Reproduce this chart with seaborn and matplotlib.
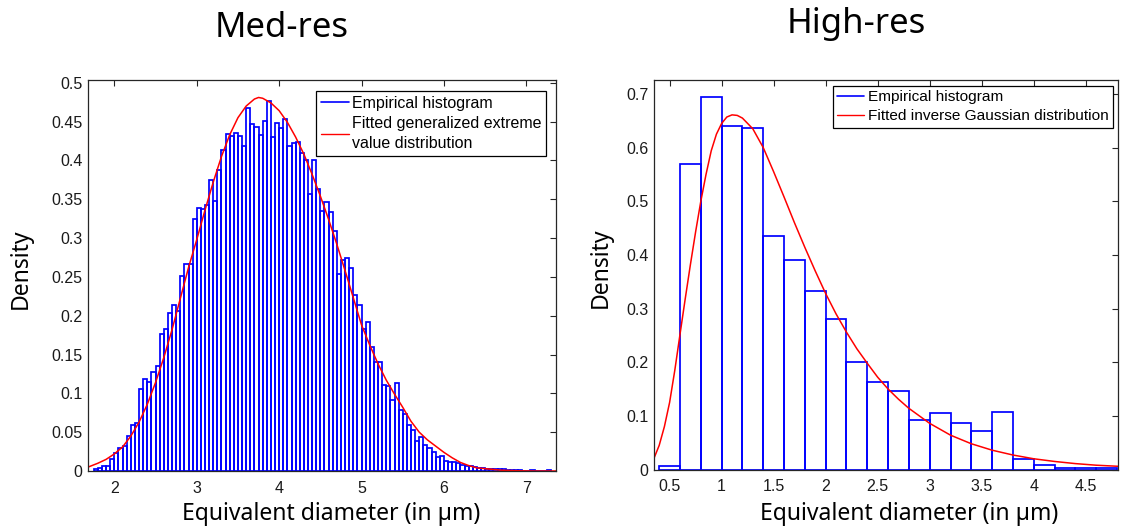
import numpy as np
import pandas as pd
import matplotlib
matplotlib.use("Agg")
import matplotlib.pyplot as plt
import seaborn as sns
from matplotlib.lines import Line2D

# --- Data ---
# Med-res: histogram with bin width 0.05 starting at 1.75
med_bin_start = 1.75
med_bin_width = 0.05
med_density = [
    0.003, 0.004, 0.006, 0.007, 0.015, 0.023, 0.029, 0.032, 0.045, 0.059,
    0.062, 0.105, 0.118, 0.114, 0.127, 0.135, 0.177, 0.183, 0.204, 0.214,
    0.206, 0.251, 0.267, 0.267, 0.325, 0.339, 0.337, 0.343, 0.375, 0.348,
    0.387, 0.414, 0.434, 0.431, 0.435, 0.431, 0.418, 0.467, 0.447, 0.443,
    0.433, 0.451, 0.477, 0.430, 0.448, 0.442, 0.453, 0.418, 0.423, 0.424,
    0.410, 0.400, 0.357, 0.400, 0.363, 0.335, 0.347, 0.334, 0.309, 0.254,
    0.272, 0.274, 0.261, 0.226, 0.214, 0.183, 0.192, 0.160, 0.140, 0.140,
    0.111, 0.110, 0.092, 0.113, 0.079, 0.074, 0.059, 0.053, 0.038, 0.044,
    0.034, 0.030, 0.024, 0.018, 0.019, 0.013, 0.011, 0.012, 0.010, 0.008,
    0.007, 0.006, 0.005, 0.004, 0.004, 0.003, 0.003, 0.002, 0.002, 0.002,
    0.001, 0.001, 0.001, 0.001, 0.0005, 0.0005, 0.001, 0.0005, 0.0005, 0.0005,
    0.001,
]
med_fit_x = [1.68, 1.8, 1.9, 2.0, 2.1, 2.2, 2.3, 2.4, 2.5, 2.6, 2.7, 2.8, 2.9,
             3.0, 3.1, 3.2, 3.3, 3.4, 3.5, 3.6, 3.7, 3.75, 3.8, 3.9, 4.0, 4.1,
             4.2, 4.3, 4.4, 4.5, 4.6, 4.7, 4.8, 4.9, 5.0, 5.1, 5.2, 5.3, 5.4,
             5.5, 5.6, 5.7, 5.8, 5.9, 6.0, 6.1, 6.2, 6.3, 6.4, 6.5, 6.7, 6.9,
             7.1, 7.36]
med_fit_y = [0.005, 0.010, 0.015, 0.022, 0.031, 0.045, 0.063, 0.086, 0.114,
             0.146, 0.182, 0.222, 0.262, 0.298, 0.336, 0.372, 0.405, 0.433,
             0.455, 0.470, 0.479, 0.481, 0.480, 0.474, 0.464, 0.449, 0.430,
             0.408, 0.382, 0.354, 0.324, 0.292, 0.258, 0.223, 0.188, 0.162,
             0.138, 0.117, 0.099, 0.082, 0.064, 0.050, 0.040, 0.032, 0.024,
             0.017, 0.011, 0.007, 0.004, 0.003, 0.001, 0.0003, 0.0, 0.0]

# High-res: histogram with bin width 0.2 starting at 0.4
high_bin_start = 0.4
high_bin_width = 0.2
high_density = [0.006, 0.569, 0.695, 0.641, 0.637, 0.436, 0.391, 0.333, 0.280,
                0.201, 0.163, 0.146, 0.092, 0.106, 0.086, 0.072, 0.108, 0.019,
                0.009, 0.002, 0.002, 0.002]
high_fit_x = [0.35, 0.4, 0.45, 0.5, 0.55, 0.6, 0.65, 0.7, 0.75, 0.8, 0.85, 0.9,
              0.95, 1.0, 1.05, 1.1, 1.15, 1.2, 1.3, 1.4, 1.5, 1.6, 1.7, 1.8,
              1.9, 2.0, 2.1, 2.2, 2.3, 2.4, 2.5, 2.6, 2.7, 2.8, 3.0, 3.2, 3.4,
              3.6, 3.8, 4.0, 4.2, 4.4, 4.6, 4.81]
high_fit_y = [0.021, 0.045, 0.080, 0.125, 0.185, 0.252, 0.318, 0.382, 0.443,
              0.500, 0.550, 0.594, 0.625, 0.645, 0.657, 0.661, 0.660, 0.655,
              0.635, 0.600, 0.555, 0.508, 0.460, 0.414, 0.370, 0.328, 0.290,
              0.256, 0.225, 0.198, 0.172, 0.150, 0.131, 0.114, 0.086, 0.064,
              0.048, 0.036, 0.027, 0.020, 0.015, 0.011, 0.008, 0.006]

med_xticks = [2, 3, 4, 5, 6, 7]
med_yticks = [0, 0.05, 0.1, 0.15, 0.2, 0.25, 0.3, 0.35, 0.4, 0.45, 0.5]
high_xticks = [0.5, 1, 1.5, 2, 2.5, 3, 3.5, 4, 4.5]
high_yticks = [0, 0.1, 0.2, 0.3, 0.4, 0.5, 0.6, 0.7]

# --- Style ---
sns.set_theme(style="white")
plt.rcParams["font.family"] = ["Liberation Sans", "DejaVu Sans"]
plt.rcParams["text.color"] = "black"
LABEL_FONT = ["Noto Sans", "DejaVu Sans"]
AX_COLOR = "#262626"


def draw_panel(ax, start, width, density, fit_x, fit_y, xlim, ylim,
               xticks, yticks, fit_label, legend_anchor, legend_size):
    edges = [round(start + width * i, 4) for i in range(len(density) + 1)]
    hist_df = pd.DataFrame({
        "center": [e + width / 2 for e in edges[:-1]],
        "density": density,
    })
    sns.histplot(data=hist_df, x="center", weights="density", bins=edges,
                 stat="count", fill=False, color="blue", linewidth=1.25, ax=ax)
    fit_df = pd.DataFrame({"x": fit_x, "y": fit_y})
    sns.lineplot(data=fit_df, x="x", y="y", color="red", linewidth=1.1, ax=ax)
    ax.set_xlim(*xlim)
    ax.set_ylim(*ylim)
    ax.set_xticks(xticks)
    ax.set_yticks(yticks)
    ax.set_xticklabels([f"{t:g}" for t in xticks])
    ax.set_yticklabels([f"{t:g}" for t in yticks])
    ax.set_xlabel("")
    ax.set_ylabel("")
    ax.tick_params(direction="in", top=True, right=True, length=4, width=0.8,
                   color=AX_COLOR, labelsize=11.5, labelcolor="#1a1a1a")
    ax.tick_params(axis="x", pad=7)
    ax.tick_params(axis="y", pad=4)
    for sp in ax.spines.values():
        sp.set_color(AX_COLOR)
        sp.set_linewidth(0.9)
    handles = [Line2D([], [], color="blue", lw=1.2),
               Line2D([], [], color="red", lw=1.0)]
    leg = ax.legend(handles, ["Empirical histogram", fit_label],
                    loc="upper right", bbox_to_anchor=legend_anchor,
                    borderaxespad=0, fontsize=legend_size, frameon=True,
                    fancybox=False, framealpha=1, edgecolor="black",
                    handlelength=1.75, handletextpad=0.2, borderpad=0.3,
                    labelspacing=0.3)
    for t in leg.get_texts():
        t.set_linespacing(1.45)
        t.set_color("black")
    leg.get_frame().set_linewidth(0.9)


fig = plt.figure(figsize=(11.22, 5.30), dpi=100)
ax1 = fig.add_axes([88 / 1122, 1 - 471 / 530, 468 / 1122, 391 / 530])
ax2 = fig.add_axes([654 / 1122, 1 - 469.5 / 530, 464 / 1122, 389.5 / 530])

draw_panel(ax1, med_bin_start, med_bin_width, med_density, med_fit_x, med_fit_y,
           (1.68, 7.36), (0, 0.5035), med_xticks, med_yticks,
           "Fitted generalized extreme\nvalue distribution", (0.979, 0.972), 11.5)
draw_panel(ax2, high_bin_start, high_bin_width, high_density, high_fit_x, high_fit_y,
           (0.35, 4.81), (0, 0.726), high_xticks, high_yticks,
           "Fitted inverse Gaussian distribution", (0.989, 0.985), 11.1)

# titles and axis labels placed like the original figure
fig.text(282 / 1122, 1 - 37 / 530, "Med-res", fontsize=25, family=LABEL_FONT,
         ha="center", va="baseline", color="black")
fig.text(856 / 1122, 1 - 33 / 530, "High-res", fontsize=25, family=LABEL_FONT,
         ha="center", va="baseline", color="black")
for x in (331, 909):
    fig.text(x / 1122, 1 - 514 / 530, "Equivalent diameter (in µm)", fontsize=16.5,
             family=LABEL_FONT, ha="center", va="center", color="black")
for x, y in ((20.5, 269), (601, 268)):
    fig.text(x / 1122, 1 - y / 530, "Density", fontsize=16.5, family=LABEL_FONT,
             rotation=90, ha="center", va="center", color="black")

fig.savefig("out.png", dpi=100, facecolor="white")
